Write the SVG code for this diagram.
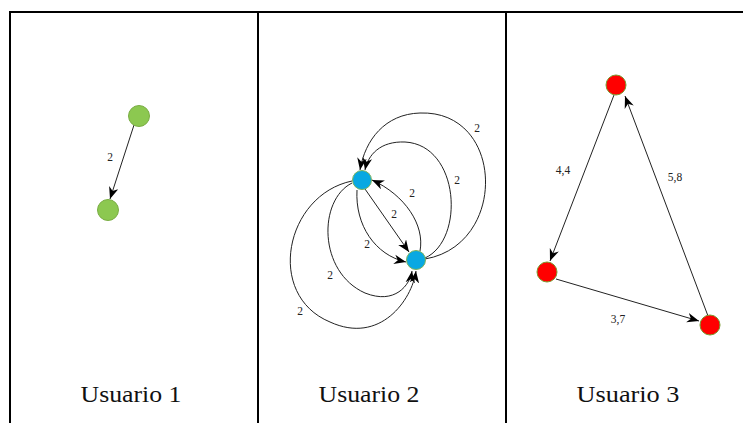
<svg xmlns="http://www.w3.org/2000/svg" width="743" height="423" viewBox="0 0 743 423">
<style>
.frame{stroke:#000;stroke-width:2;fill:none}
.edge{stroke:#222;stroke-width:1;fill:none;marker-end:url(#arr)}
.lbl{font-family:"Liberation Serif",serif;font-size:11.5px;fill:#222;text-anchor:middle}
.title{font-family:"Liberation Serif",serif;font-size:24px;fill:#111;text-anchor:middle}
.green{fill:#8cc850;stroke:#7aad44;stroke-width:1}
.blue{fill:#08a8e2;stroke:#7fb35a;stroke-width:1}
.red{fill:#ff0000;stroke:#7a9a30;stroke-width:1}
</style>
<defs>
<marker id="arr" viewBox="0 0 10 8" refX="10" refY="4" markerWidth="12" markerHeight="10" orient="auto" markerUnits="userSpaceOnUse">
<path d="M0,0 L10,4 L0,8 L3,4 Z" fill="#000"/>
</marker>
</defs>
<rect width="743" height="423" fill="#fff"/>
<g id="frame">
<path class="frame" d="M10,423 V12 H743"/>
<path class="frame" d="M258,12 V423"/>
<path class="frame" d="M506,12 V423"/>
</g>
<g id="connectors">
<path class="edge" d="M134,125 L110,199"/>
<path class="edge" d="M425,259 C508,245 505,110 420,113 C385,114 365,140 360,170"/>
<path class="edge" d="M425,258 C465,240 460,145 405,142 C380,141 368,155 365,170"/>
<path class="edge" d="M420,251 C425,225 405,195 372,180"/>
<path class="edge" d="M365,189 L409,252"/>
<path class="edge" d="M357,190 C355,225 375,255 406,262"/>
<path class="edge" d="M352,183 C318,200 318,272 365,293 C395,305 410,285 412,271"/>
<path class="edge" d="M352,181 C285,195 265,295 330,322 C380,345 412,300 416,271"/>
<path class="edge" d="M614,95 L550,261"/>
<path class="edge" d="M556,279 L699,321"/>
<path class="edge" d="M708,316 L625,96"/>
</g>
<g id="edge-labels">
<text class="lbl" x="110" y="161">2</text>
<text class="lbl" x="477" y="132">2</text>
<text class="lbl" x="457" y="184">2</text>
<text class="lbl" x="412" y="197">2</text>
<text class="lbl" x="394" y="218">2</text>
<text class="lbl" x="367" y="248">2</text>
<text class="lbl" x="330" y="279">2</text>
<text class="lbl" x="300" y="315">2</text>
<text class="lbl" x="563" y="174">4,4</text>
<text class="lbl" x="675" y="181">5,8</text>
<text class="lbl" x="618" y="323">3,7</text>
</g>
<g id="u1a"><circle class="green" cx="139" cy="116" r="10.5"/></g>
<g id="u1b"><circle class="green" cx="108" cy="210" r="10.5"/></g>
<g id="u2a"><circle class="blue" cx="362" cy="180" r="9.5"/></g>
<g id="u2b"><circle class="blue" cx="416" cy="260" r="9.5"/></g>
<g id="u3a"><circle class="red" cx="616" cy="85" r="10"/></g>
<g id="u3b"><circle class="red" cx="547" cy="272" r="10"/></g>
<g id="u3c"><circle class="red" cx="710" cy="325" r="10"/></g>
<g id="titles">
<text class="title" x="131" y="402" textLength="101" lengthAdjust="spacingAndGlyphs">Usuario 1</text>
<text class="title" x="369" y="402" textLength="101" lengthAdjust="spacingAndGlyphs">Usuario 2</text>
<text class="title" x="628" y="402" textLength="103" lengthAdjust="spacingAndGlyphs">Usuario 3</text>
</g>
</svg>
